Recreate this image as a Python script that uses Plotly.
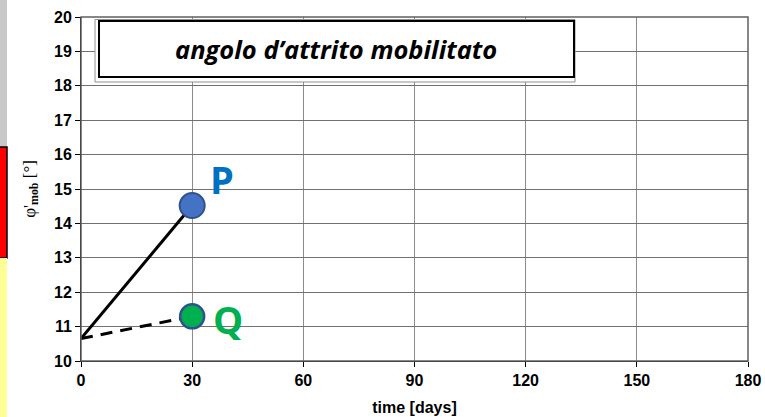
import plotly.graph_objects as go

# data
time_start = [0, 30]
phi_P = [10.65, 14.52]
phi_Q = [10.65, 11.3]
point_labels = ["P", "Q"]
x_ticks = [0, 30, 60, 90, 120, 150, 180]
y_ticks = list(range(10, 21))

W, H = 765, 417
L, R, T, B = 81, 17, 17, 56
pw, ph = W - L - R, H - T - B

def px(x):
    return (x - L) / pw

def py(y):
    return (H - B - y) / ph

fig = go.Figure()

fig.add_trace(go.Scatter(x=time_start, y=phi_P, mode="lines",
                         line=dict(color="black", width=3), showlegend=False))
fig.add_trace(go.Scatter(x=time_start, y=phi_Q, mode="lines",
                         line=dict(color="black", width=3, dash="12px,8px"), showlegend=False))
fig.add_trace(go.Scatter(x=[time_start[1]], y=[phi_P[1]], mode="markers",
                         marker=dict(size=25, color="#4472C4", line=dict(color="#2F528F", width=2)),
                         showlegend=False))
fig.add_trace(go.Scatter(x=[time_start[1]], y=[phi_Q[1]], mode="markers",
                         marker=dict(size=24, color="#00B050", line=dict(color="#2F528F", width=2.5)),
                         showlegend=False))

fig.add_annotation(x=time_start[1], y=phi_P[1], text="<b>" + point_labels[0] + "</b>",
                   xanchor="left", yanchor="middle", xshift=16, yshift=27, showarrow=False,
                   font=dict(family="Open Sans", size=38, color="#0070C0"))
fig.add_annotation(x=time_start[1], y=phi_Q[1], text="<b>" + point_labels[1] + "</b>",
                   xanchor="left", yanchor="middle", xshift=19, yshift=-3, showarrow=False,
                   font=dict(family="Open Sans", size=38, color="#00B050"))

shapes = []
# spreadsheet strip at left edge
shapes.append(dict(type="rect", xref="paper", yref="paper", x0=px(0), x1=px(7), y0=py(147), y1=py(0),
                   fillcolor="#C8C8C8", line=dict(width=0), layer="below"))
shapes.append(dict(type="rect", xref="paper", yref="paper", x0=px(-2), x1=px(7), y0=py(258), y1=py(147),
                   fillcolor="#FF0000", line=dict(color="black", width=1.5), layer="below"))
shapes.append(dict(type="rect", xref="paper", yref="paper", x0=px(0), x1=px(7), y0=py(417), y1=py(258),
                   fillcolor="#FFFF99", line=dict(width=0), layer="below"))
# plot border (top & right)
shapes.append(dict(type="rect", xref="paper", yref="paper", x0=0, x1=1, y0=0, y1=1,
                   line=dict(color="#606060", width=1.5)))
# title box
shapes.append(dict(type="rect", xref="paper", yref="paper", x0=px(95), x1=px(575), y0=py(82), y1=py(19.5),
                   fillcolor="white", line=dict(color="#909090", width=1)))
shapes.append(dict(type="rect", xref="paper", yref="paper", x0=px(99), x1=px(574), y0=py(77), y1=py(21),
                   fillcolor="white", line=dict(color="black", width=2)))
fig.update_layout(shapes=shapes)

fig.add_annotation(xref="paper", yref="paper", x=px(336), y=py(49), text="<b><i>angolo d’attrito mobilitato</i></b>",
                   showarrow=False, xanchor="center", yanchor="middle",
                   font=dict(family="Open Sans", size=25.5, color="black"))

fig.update_xaxes(range=[0, 180], tickmode="array", tickvals=x_ticks,
                 ticktext=["<b>%d</b>" % v for v in x_ticks],
                 showgrid=True, gridcolor="#8C8C8C", gridwidth=1, automargin=False,
                 showline=True, linecolor="black", linewidth=1, ticks="outside", ticklen=5, tickcolor="black",
                 tickfont=dict(family="Liberation Sans", size=16, color="black"),
                 title=dict(text="<b>time [days]</b>", font=dict(family="Liberation Sans", size=16, color="black"),
                            standoff=13),
                 zeroline=False)
fig.update_yaxes(range=[10, 20], tickmode="array", tickvals=y_ticks,
                 ticktext=["<b>%d</b>" % v for v in y_ticks],
                 showgrid=True, gridcolor="#707070", gridwidth=1, automargin=False,
                 showline=True, linecolor="black", linewidth=1, ticks="outside", ticklen=5, tickcolor="black",
                 tickfont=dict(family="Liberation Sans", size=16, color="black"),
                 title=dict(text="φ'<sub><b>mob</b></sub> [°]", font=dict(family="Liberation Serif", size=17, color="black"),
                            standoff=14),
                 zeroline=False)

fig.update_layout(width=W, height=H, margin=dict(l=L, r=R, t=T, b=B),
                  plot_bgcolor="white", paper_bgcolor="white")

fig.write_html("out.html")
